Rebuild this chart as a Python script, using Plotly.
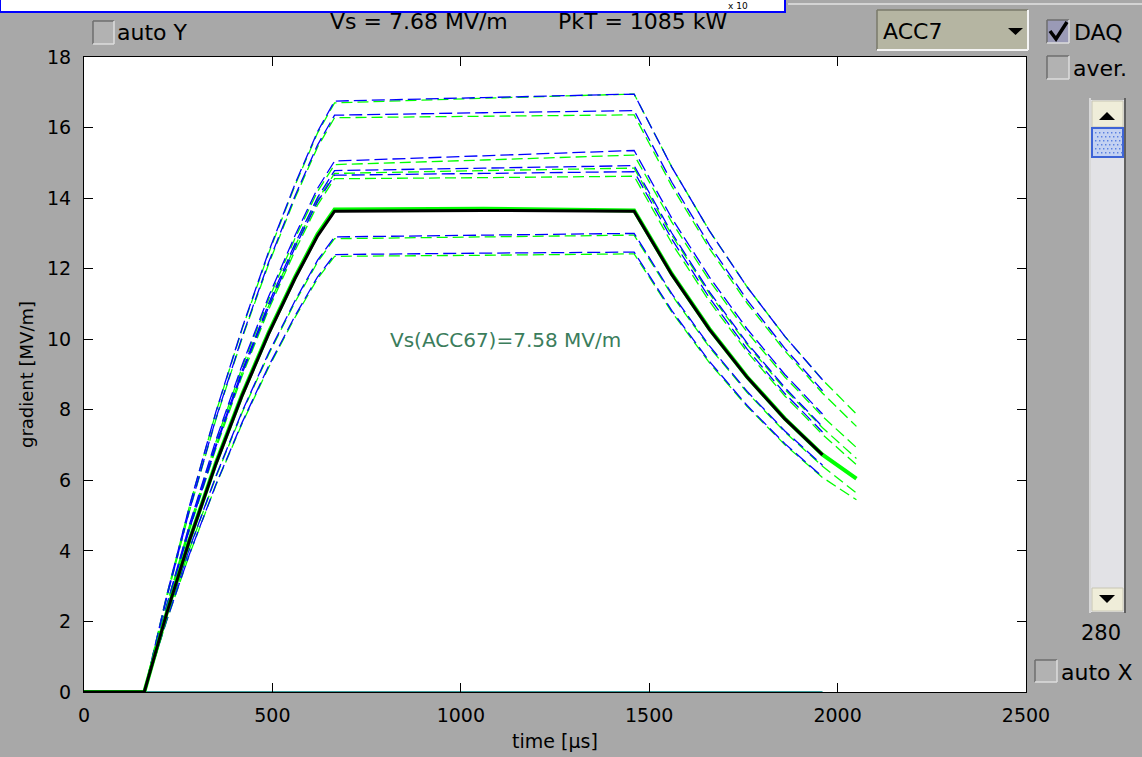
import plotly.graph_objects as go

# ---------------- data ----------------
t_blue = [0, 160, 220, 280, 350, 420, 490, 560, 620, 665, 1060, 1460, 1560, 1660, 1760, 1860, 1960]
t_green = [0, 160, 220, 280, 350, 420, 490, 560, 620, 665, 1060, 1460, 1560, 1660, 1760, 1860, 1960, 2050]

blue_1 = [0, 0, 2.76, 5.28, 7.94, 10.33, 12.48, 14.40, 15.89, 16.75, 16.85, 16.95, 14.88, 13.07, 11.48, 10.08, 8.85]
green_1 = [0, 0, 2.76, 5.27, 7.92, 10.30, 12.44, 14.36, 15.85, 16.70, 16.83, 16.95, 14.88, 13.07, 11.48, 10.08, 8.85, 7.88]
blue_2 = [0, 0, 2.70, 5.16, 7.75, 10.08, 12.18, 14.06, 15.51, 16.35, 16.42, 16.48, 14.45, 12.67, 11.11, 9.74, 8.54]
green_2 = [0, 0, 2.69, 5.13, 7.72, 10.04, 12.13, 14.00, 15.45, 16.28, 16.32, 16.36, 14.34, 12.57, 11.02, 9.67, 8.47, 7.53]
blue_3 = [0, 0, 2.48, 4.75, 7.14, 9.28, 11.21, 12.94, 14.28, 15.05, 15.20, 15.35, 13.43, 11.76, 10.29, 9.00, 7.88]
green_3 = [0, 0, 2.47, 4.72, 7.09, 9.22, 11.13, 12.86, 14.19, 14.95, 15.08, 15.22, 13.32, 11.66, 10.20, 8.93, 7.81, 6.93]
blue_4 = [0, 0, 2.44, 4.66, 7.01, 9.12, 11.01, 12.71, 14.02, 14.78, 14.85, 14.92, 13.01, 11.34, 9.89, 8.63, 7.52]
green_4 = [0, 0, 2.43, 4.64, 6.97, 9.07, 10.95, 12.64, 13.95, 14.70, 14.78, 14.85, 12.95, 11.29, 9.85, 8.58, 7.49, 6.62]
blue_5 = [0, 0, 2.42, 4.62, 6.95, 9.04, 10.91, 12.60, 13.90, 14.65, 14.70, 14.75, 12.84, 11.17, 9.72, 8.46, 7.37]
green_5 = [0, 0, 2.40, 4.59, 6.90, 8.97, 10.84, 12.51, 13.81, 14.55, 14.58, 14.62, 12.72, 11.07, 9.64, 8.39, 7.30, 6.44]
blue_6 = [0, 0, 2.13, 4.07, 6.12, 7.96, 9.61, 11.09, 12.24, 12.90, 12.95, 13.00, 11.29, 9.81, 8.52, 7.40, 6.43]
green_6 = [0, 0, 2.12, 4.05, 6.09, 7.93, 9.57, 11.05, 12.19, 12.85, 12.90, 12.95, 11.25, 9.77, 8.49, 7.37, 6.40, 5.64]
blue_7 = [0, 0, 2.05, 3.91, 5.88, 7.65, 9.24, 10.66, 11.77, 12.40, 12.44, 12.47, 10.81, 9.37, 8.12, 7.04, 6.10]
green_7 = [0, 0, 2.04, 3.90, 5.86, 7.62, 9.20, 10.62, 11.72, 12.35, 12.38, 12.42, 10.77, 9.33, 8.09, 7.01, 6.08, 5.45]
black_main = [0, 0, 2.25, 4.30, 6.46, 8.41, 10.15, 11.72, 12.93, 13.63, 13.65, 13.63, 11.83, 10.27, 8.92, 7.74, 6.72]
green_main = [0, 0, 2.26, 4.31, 6.49, 8.44, 10.19, 11.76, 12.98, 13.68, 13.70, 13.65, 11.85, 10.29, 8.93, 7.75, 6.73, 6.05]
t_base = [0, 1960]
base_line = [0, 0]

x_ticks = [0, 500, 1000, 1500, 2000, 2500]
y_ticks = [0, 2, 4, 6, 8, 10, 12, 14, 16, 18]

header_vs = "Vs = 7.68 MV/m"
header_pkt = "PkT = 1085 kW"
note_text = "Vs(ACC67)=7.58 MV/m"

# ---------------- figure ----------------
BG = "#a8a8a8"
BLUE = "#0000ff"
GREEN = "#00ff00"
FONT = "DejaVu Sans"

fig = go.Figure()

fig.add_trace(go.Scatter(x=t_base, y=base_line, mode="lines",
                         line=dict(color="#3c9c9c", width=2), hoverinfo="skip"))

pairs = [(blue_1, green_1), (blue_2, green_2), (blue_3, green_3), (blue_4, green_4),
         (blue_5, green_5), (blue_6, green_6), (blue_7, green_7)]
for b, g in pairs:
    fig.add_trace(go.Scatter(x=t_green, y=g, mode="lines",
                             line=dict(color=GREEN, width=1.3, dash="11px,5px")))
    fig.add_trace(go.Scatter(x=t_blue, y=b, mode="lines",
                             line=dict(color=BLUE, width=1.3, dash="13px,5px")))

fig.add_trace(go.Scatter(x=t_green, y=green_main, mode="lines",
                         line=dict(color=GREEN, width=4)))
fig.add_trace(go.Scatter(x=t_blue, y=black_main, mode="lines",
                         line=dict(color="black", width=3)))

# pixel -> paper helpers (plot area: x 84..1026, y 57..692)
L, R, T, B = 84, 1026, 57, 692
def px(x):
    return (x - L) / (R - L)
def py(y):
    return (B - y) / (B - T)

shapes = []
def rect(x0, y0, x1, y1, fill, line="rgba(0,0,0,0)", lw=0):
    shapes.append(dict(type="rect", xref="paper", yref="paper",
                       x0=px(x0), x1=px(x1), y0=py(y1), y1=py(y0),
                       fillcolor=fill, line=dict(color=line, width=lw), layer="above"))
def seg(x0, y0, x1, y1, color, lw=1):
    shapes.append(dict(type="line", xref="paper", yref="paper",
                       x0=px(x0), x1=px(x1), y0=py(y0), y1=py(y1),
                       line=dict(color=color, width=lw), layer="above"))
def poly(points, fill, line="rgba(0,0,0,0)", lw=0, closed=True):
    d = "M " + " L ".join(f"{px(a):.5f},{py(b):.5f}" for a, b in points)
    if closed:
        d += " Z"
    shapes.append(dict(type="path", xref="paper", yref="paper", path=d,
                       fillcolor=fill, line=dict(color=line, width=lw), layer="above"))

def checkbox(x0, y0, x1, y1, fill="#b2b2b2"):
    rect(x0, y0, x1, y1, fill)
    seg(x0, y0, x1, y0, "#6e6e6e", 1.5)
    seg(x0, y0, x0, y1, "#6e6e6e", 1.5)
    seg(x0, y1, x1, y1, "#dcdcdc", 1.5)
    seg(x1, y0, x1, y1, "#dcdcdc", 1.5)

# top band (window above)
rect(0, -4, 785, 12, "white", BLUE, 2)
seg(788, 4, 1142, 4, "#d4d4d4", 2)

# checkboxes
checkbox(93, 21, 114, 44)
checkbox(1047, 20, 1069, 43, fill="#9a9ab6")
poly([(1050, 31), (1056, 39), (1067, 22)], "rgba(0,0,0,0)", "black", 3.5, closed=False)
checkbox(1047, 56, 1069, 79)
checkbox(1035, 660, 1057, 682)

# dropdown
rect(877, 10, 1028, 50, "#b5b5a2")
seg(877, 10, 1028, 10, "#7a7a6a", 1.5)
seg(877, 10, 877, 50, "#7a7a6a", 1.5)
seg(877, 50, 1028, 50, "#f4f4f4", 2)
seg(1028, 10, 1028, 50, "#f4f4f4", 2)
poly([(1008, 28), (1023, 28), (1015.5, 35)], "black")

# slider
rect(1091, 100, 1124, 612, "#e2e2e6")
seg(1125, 98, 1125, 613, "#606060", 2)
seg(1090, 98, 1090, 613, "#e8e8e8", 1.5)
rect(1092, 101, 1123, 127, "#efedd9", "#c8c6b4", 1)
poly([(1099, 120), (1115, 120), (1107, 112)], "black")
rect(1092, 128, 1123, 157, "#c4d2f2", "#3e64d6", 2)
for yy in range(132, 155, 4):
    for xx in range(1095, 1121, 4):
        off = 2 if ((yy - 132) // 4) % 2 else 0
        rect(xx + off, yy, xx + off + 1.4, yy + 1.4, "#5a80e0")
rect(1092, 588, 1123, 611, "#efedd9", "#c8c6b4", 1)
poly([(1099, 595), (1115, 595), (1107, 603)], "black")

annotations = []
def label(x, y, text, size=22, color="black", xanchor="left", font=FONT):
    annotations.append(dict(xref="paper", yref="paper", x=px(x), y=py(y), text=text,
                            showarrow=False, xanchor=xanchor, yanchor="middle",
                            font=dict(family=font, size=size, color=color)))

label(738, 6, "x 10", size=9, xanchor="center")
label(328, 21, header_vs, size=22)
label(556, 21, header_pkt, size=22)
label(115, 33, "auto Y", size=22)
label(881, 31, "ACC7", size=22)
label(1072, 32, "DAQ", size=22)
label(1071, 68, "aver.", size=22)
label(1101, 633, "280", size=21, xanchor="center")
label(1059, 672, "auto X", size=22)
label(505, 340, note_text, size=20, color="#3b7d5c", xanchor="center")

fig.update_layout(
    width=1142, height=757, autosize=False,
    margin=dict(l=L, r=1142 - R, t=T, b=757 - B, pad=0),
    paper_bgcolor=BG, plot_bgcolor="white",
    showlegend=False,
    shapes=shapes, annotations=annotations,
    xaxis=dict(range=[0, 2500], tickvals=x_ticks, ticks="inside", ticklen=9,
               tickcolor="black", showline=True, linecolor="black", linewidth=1,
               mirror="ticks", showgrid=False, zeroline=False, automargin=False,
               tickfont=dict(family=FONT, size=19, color="black"),
               ticklabelstandoff=6,
               title=dict(text="time [µs]", font=dict(family=FONT, size=19, color="black"),
                          standoff=9)),
    yaxis=dict(range=[0, 18], tickvals=y_ticks, ticks="inside", ticklen=9,
               tickcolor="black", showline=True, linecolor="black", linewidth=1,
               mirror="ticks", showgrid=False, zeroline=False, automargin=False,
               tickfont=dict(family=FONT, size=19, color="black"),
               ticklabelstandoff=8,
               title=dict(text="gradient [MV/m]", font=dict(family=FONT, size=18, color="black"),
                          standoff=8)),
)

fig.write_html("out.html")
